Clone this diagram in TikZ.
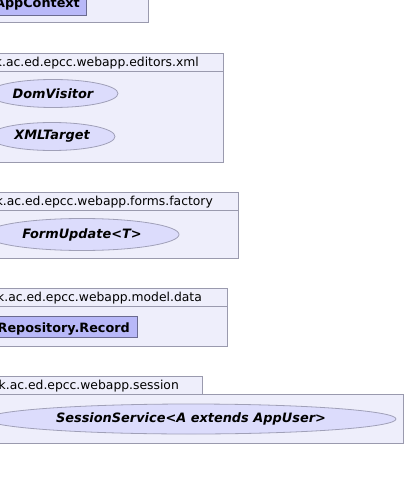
\documentclass[tikz,border=0pt]{standalone}
\usepackage{fontspec}
\setmainfont{DejaVu Sans}
\usetikzlibrary{shapes.geometric,fit}
\definecolor{pkgfill}{HTML}{EEEEFB}
\definecolor{pkgline}{HTML}{9A9AAE}
\definecolor{ellfill}{HTML}{DCDCFC}
\definecolor{ellline}{HTML}{A0A0B8}
\definecolor{clsfill}{HTML}{B8B8F8}
\definecolor{clsline}{HTML}{6A6A90}
\tikzset{
  pkg/.style={draw=pkgline, fill=pkgfill, line width=0.8pt, inner sep=0pt},
  pkglabel/.style={inner sep=0pt, font=\fontsize{12.35}{15}\selectfont, text=black},
  ell/.style={ellipse, draw=ellline, fill=ellfill, line width=0.8pt, inner sep=0pt,
    font=\fontsize{12.9}{15}\selectfont\bfseries\itshape},
  cls/.style={draw=clsline, fill=clsfill, line width=0.8pt, inner sep=0pt},
  clslabel/.style={inner sep=0pt, font=\fontsize{12.8}{15}\selectfont\bfseries}
}
\begin{document}
\begin{tikzpicture}[x=1pt,y=-1pt]
\useasboundingbox (0,0) rectangle (406,489);
\fill[white] (0,0) rectangle (406,489);
\clip (0,0) rectangle (406,489);
% block 1
\node[pkg, fit={(-20,-10) (148,22.5)}] (p1) {};
\node[cls, fit={(-20,-5) (86,15.5)}] (c1) {};
\node[clslabel, anchor=base east] (t1) at (80,8) {AppContext};
% block 2
\node[pkg, fit={(-20,53.5) (223,71.5)}] (p2tab) {};
\node[pkg, fit={(-20,71.5) (223,162)}] (p2) {};
\node[pkglabel, anchor=base east] (l2) at (199,67) {uk.ac.ed.epcc.webapp.editors.xml};
\node[ell, minimum width=130pt, minimum height=28pt] (dom) at (53,93.5) {DomVisitor};
\node[ell, minimum width=126pt, minimum height=28pt] (xml) at (52,136.5) {XMLTarget};
% block 3
\node[pkg, fit={(-20,192) (238,210)}] (p3tab) {};
\node[pkg, fit={(-20,210) (238,258.5)}] (p3) {};
\node[pkglabel, anchor=base east] (l3) at (213,205) {uk.ac.ed.epcc.webapp.forms.factory};
\node[ell, minimum width=194pt, minimum height=32pt] (form) at (82,234.5) {FormUpdate<T>};
% block 4
\node[pkg, fit={(-20,288.5) (227,306)}] (p4tab) {};
\node[pkg, fit={(-20,306) (227,346.5)}] (p4) {};
\node[pkglabel, anchor=base east] (l4) at (202,301) {uk.ac.ed.epcc.webapp.model.data};
\node[cls, fit={(-20,316.5) (137,337.5)}] (c4) {};
\node[clslabel, anchor=base east] (t4) at (130,332) {Repository.Record};
% block 5
\node[pkg, fit={(-20,376) (202,394)}] (p5tab) {};
\node[pkg, fit={(-20,394) (403,443)}] (p5) {};
\node[pkglabel, anchor=base east] (l5) at (179,389) {uk.ac.ed.epcc.webapp.session};
\node[ell, minimum width=410pt, minimum height=30pt] (sess) at (191,419) {SessionService<A extends AppUser>};
\end{tikzpicture}
\end{document}
